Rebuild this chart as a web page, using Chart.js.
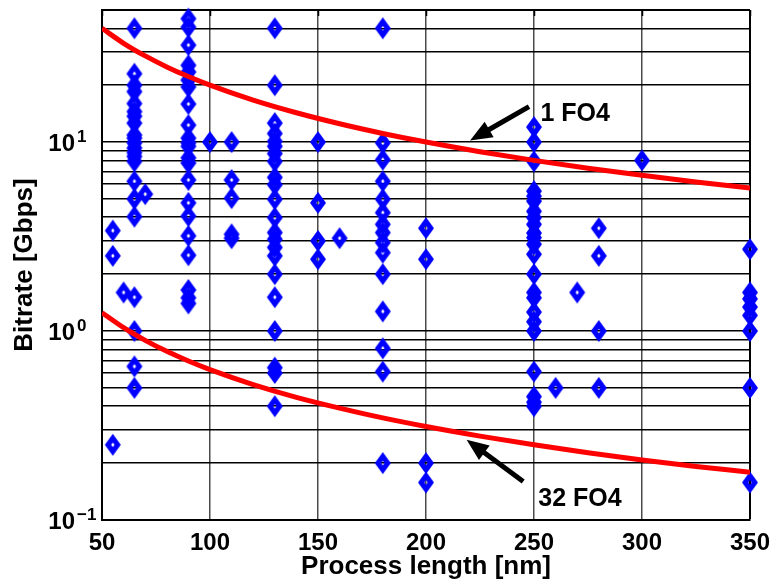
<!DOCTYPE html>
<html><head><meta charset="UTF-8">
<title>Bitrate vs process length</title>
<style>
  html, body { margin: 0; padding: 0; background: #fff; }
  #wrap { width: 775px; height: 585px; }
</style>
<script src="https://cdn.jsdelivr.net/npm/chart.js@4"></script>
</head><body>
<div id="wrap"><canvas id="chart" width="775" height="585"></canvas></div>
<script>
// reported designs: process node [nm] and the bitrates at that node [Gbps]
const nodeNm = [55, 60, 65, 70, 90, 100, 110, 130, 150, 160, 180, 200, 250, 260, 270, 280, 300, 350];
const nodeGbps = [
  [3.4, 2.5, 0.25],
  [1.6],
  [40, 23, 20, 18.5, 16, 14.5, 13.7, 12.6, 10.9, 10.5, 9.9, 9.3, 8.8, 8.4, 7.9, 6.2, 5.0, 4.03, 1.51, 1.0, 0.65, 0.5],
  [5.3],
  [45, 40.6, 32.6, 25.5, 23.5, 21.3, 19.6, 15.9, 12.3, 10.5, 9.9, 9.5, 8.25, 7.75, 6.3, 4.77, 4.06, 3.19, 2.52, 1.65, 1.5, 1.4],
  [10],
  [10, 6.3, 5.05, 3.25, 3.1],
  [40, 20, 12.6, 11.1, 10.1, 9.5, 8.7, 7.9, 6.5, 5.95, 4.98, 3.98, 3.32, 3.06, 2.77, 2.5, 2.0, 1.51, 1.0, 0.64, 0.6, 0.4],
  [10, 4.77, 3.0, 2.4],
  [3.1],
  [40, 9.9, 8.07, 6.2, 4.98, 4.23, 3.67, 3.32, 2.94, 2.6, 2.0, 1.27, 0.81, 0.61, 0.2],
  [3.5, 2.4, 0.2, 0.158],
  [12, 10, 7.9, 5.5, 5.17, 4.87, 4.3, 3.98, 3.67, 3.3, 3.12, 2.88, 2.55, 2.0, 1.6, 1.5, 1.26, 1.12, 1.0, 0.61, 0.45, 0.42, 0.4],
  [0.5],
  [1.6],
  [3.5, 2.5, 1.0, 0.5],
  [8.0],
  [2.71, 1.6, 1.48, 1.34, 1.21, 1.0, 0.5, 0.158]
];

// FO4 limit curves
const fo4Nm = [50, 60, 70, 80, 90, 100, 120, 140, 160, 180, 200, 225, 250, 275, 300, 325, 350];
const oneFo4Gbps = [40, 33.33, 28.57, 25, 22.22, 20, 16.67, 14.29, 12.5, 11.11, 10, 8.89, 8, 7.27, 6.67, 6.15, 5.71];
const thirtyTwoFo4Gbps = [1.25, 1.042, 0.893, 0.781, 0.694, 0.625, 0.521, 0.446, 0.391, 0.347, 0.3125, 0.278, 0.25, 0.227, 0.208, 0.192, 0.179];

// axis ticks
const xTicks = [50, 100, 150, 200, 250, 300, 350];
const yGridValues = [0.1, 0.2, 0.3, 0.4, 0.5, 0.6, 0.7, 0.8, 0.9, 1, 2, 3, 4, 5, 6, 7, 8, 9, 10, 20, 30, 40, 50];
const yLabelValues = [0.1, 1, 10];
const yLabelExponents = ['\u22121', '0', '1'];

// arrow annotations
const noteText = ['1 FO4', '32 FO4'];
const noteNm = [253, 252];
const noteGbps = [14, 0.1285];
const arrowTailNm = [247.7, 245];
const arrowTailGbps = [15.4, 0.16];
const arrowHeadNm = [220.4, 218.8];
const arrowHeadGbps = [10.2, 0.266];

const FONT = "'Liberation Sans', Arial, Helvetica, sans-serif";

const points = [];
nodeNm.forEach((n, i) => nodeGbps[i].forEach(v => points.push({x: n, y: v})));

function diamondMarker() {
  const c = document.createElement('canvas');
  c.width = 18; c.height = 24;
  const g = c.getContext('2d');
  g.fillStyle = '#0000ff';
  g.beginPath();
  g.moveTo(9, 1); g.lineTo(17, 12); g.lineTo(9, 23); g.lineTo(1, 12);
  g.closePath(); g.fill();
  g.globalCompositeOperation = 'destination-out';
  g.beginPath();
  g.moveTo(9, 9.8); g.lineTo(10.7, 12); g.lineTo(9, 14.2); g.lineTo(7.3, 12);
  g.closePath(); g.fill();
  return c;
}

function arrow(ctx, x0, y0, x1, y1) {
  const ang = Math.atan2(y1 - y0, x1 - x0);
  const len = 22, half = 9;
  const bx = x1 - len * Math.cos(ang), by = y1 - len * Math.sin(ang);
  ctx.lineWidth = 5;
  ctx.beginPath(); ctx.moveTo(x0, y0); ctx.lineTo(bx + 2 * Math.cos(ang), by + 2 * Math.sin(ang)); ctx.stroke();
  ctx.beginPath();
  ctx.moveTo(x1, y1);
  ctx.lineTo(bx + half * Math.sin(ang), by - half * Math.cos(ang));
  ctx.lineTo(bx - half * Math.sin(ang), by + half * Math.cos(ang));
  ctx.closePath(); ctx.fill();
}

const overlay = {
  id: 'overlay',
  afterDraw(chart) {
    const {ctx, chartArea: a, scales: {x, y}} = chart;
    ctx.save();
    ctx.strokeStyle = '#000';
    ctx.fillStyle = '#000';
    // small inward tick marks along the top edge
    ctx.lineWidth = 1.5;
    xTicks.forEach(v => {
      const px = Math.round(x.getPixelForValue(v)) + 0.5;
      ctx.beginPath(); ctx.moveTo(px, a.top); ctx.lineTo(px, a.top + 6); ctx.stroke();
    });
    // y labels as powers of ten
    yLabelValues.forEach((v, i) => {
      const py = y.getPixelForValue(v);
      ctx.font = 'bold 24px ' + FONT;
      ctx.textAlign = 'right'; ctx.textBaseline = 'alphabetic';
      ctx.fillText('10', a.left - 27, py + 8.6);
      ctx.font = 'bold 17px ' + FONT;
      ctx.textAlign = 'left';
      ctx.fillText(yLabelExponents[i], a.left - 25, py);
    });
    // arrows and their labels
    ctx.lineCap = 'butt';
    noteText.forEach((t, i) => {
      arrow(ctx,
        x.getPixelForValue(arrowTailNm[i]), y.getPixelForValue(arrowTailGbps[i]),
        x.getPixelForValue(arrowHeadNm[i]), y.getPixelForValue(arrowHeadGbps[i]));
      ctx.font = 'bold 25px ' + FONT;
      ctx.textAlign = 'left'; ctx.textBaseline = 'middle';
      ctx.fillText(t, x.getPixelForValue(noteNm[i]), y.getPixelForValue(noteGbps[i]));
    });
    ctx.restore();
  }
};

new Chart(document.getElementById('chart'), {
  type: 'scatter',
  data: {
    datasets: [
      {
        label: '1 FO4', type: 'line',
        data: fo4Nm.map((n, i) => ({x: n, y: oneFo4Gbps[i]})),
        borderColor: '#ff0000', borderWidth: 5, pointRadius: 0,
        cubicInterpolationMode: 'monotone', fill: false, order: 0
      },
      {
        label: '32 FO4', type: 'line',
        data: fo4Nm.map((n, i) => ({x: n, y: thirtyTwoFo4Gbps[i]})),
        borderColor: '#ff0000', borderWidth: 5, pointRadius: 0,
        cubicInterpolationMode: 'monotone', fill: false, order: 0
      },
      {
        label: 'Designs',
        data: points,
        pointStyle: diamondMarker(),
        pointRadius: 9,
        clip: false,
        order: 1
      }
    ]
  },
  options: {
    responsive: false,
    animation: false,
    devicePixelRatio: 1,
    layout: { padding: { top: 9, right: 25, left: 0, bottom: 0 } },
    plugins: { legend: { display: false }, tooltip: { enabled: false } },
    scales: {
      x: {
        type: 'linear', min: 50, max: 350,
        afterBuildTicks: s => { s.ticks = xTicks.map(v => ({value: v})); },
        ticks: { color: '#000', padding: 9, font: { family: FONT, size: 24, weight: 'bold' } },
        grid: {
          drawTicks: false,
          color: c => c.tick && c.tick.value === 350 ? '#000' : '#4a4a4a',
          lineWidth: c => c.tick && c.tick.value === 350 ? 2 : 1.5
        },
        border: { display: true, color: '#000', width: 2 },
        title: {
          display: true, text: 'Process length [nm]', color: '#000',
          font: { family: FONT, size: 26, weight: 'bold' }, padding: { top: 0, bottom: 3 }
        },
        afterFit: s => { s.height = 65; s.paddingLeft = 0; s.paddingRight = 0; }
      },
      y: {
        type: 'logarithmic', min: 0.1, max: 50,
        afterBuildTicks: s => { s.ticks = yGridValues.map(v => ({value: v})); },
        ticks: { display: false },
        grid: {
          drawTicks: false,
          color: '#000',
          lineWidth: c => c.tick && c.tick.value === 50 ? 2 : 1.6
        },
        border: { display: true, color: '#000', width: 2 },
        title: {
          display: true, text: 'Bitrate [Gbps]', color: '#000',
          font: { family: FONT, size: 26, weight: 'bold' }, padding: { top: 9, bottom: 0 }
        },
        afterFit: s => { s.width = 102; s.paddingTop = 0; s.paddingBottom = 0; }
      }
    }
  },
  plugins: [overlay]
});
</script>
</body></html>
